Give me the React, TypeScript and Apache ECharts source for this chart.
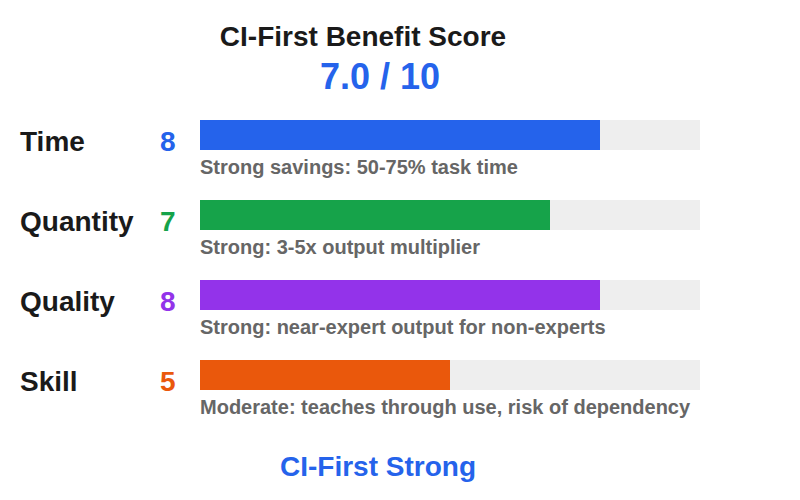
import React, { useEffect, useRef } from "react";
import * as echarts from "echarts";

const categories = ["Time", "Quantity", "Quality", "Skill"];
const scores = [8, 7, 8, 5];
const colors = ["#2563eb", "#16a34a", "#9333ea", "#ea580c"];
const notes = [
  "Strong savings: 50-75% task time",
  "Strong: 3-5x output multiplier",
  "Strong: near-expert output for non-experts",
  "Moderate: teaches through use, risk of dependency",
];
const titleText = "CI-First Benefit Score";
const verdictText = "CI-First Strong";
const maxScore = 10;

const FONT = '"Liberation Sans", Arial, Helvetica, sans-serif';

export default function App() {
  const ref = useRef<HTMLDivElement>(null);
  useEffect(() => {
    if (!ref.current) return;
    const chart = echarts.init(ref.current, undefined, { renderer: "svg" });
    const avg = scores.reduce((a, b) => a + b, 0) / scores.length;
    const rich: any = {
      name: { fontSize: 28, fontWeight: "bold", color: "#1a1a1a", width: 140, fontFamily: FONT },
    };
    colors.forEach((c, i) => {
      rich["s" + i] = { fontSize: 28, fontWeight: "bold", color: c, fontFamily: FONT };
    });
    chart.setOption({
      animation: false,
      backgroundColor: "#ffffff",
      textStyle: { fontFamily: FONT },
      grid: { left: 200, width: 500, top: 95, height: 320, containLabel: false },
      xAxis: { type: "value", min: 0, max: maxScore, show: false },
      yAxis: {
        type: "category",
        inverse: true,
        data: categories,
        axisLine: { show: false },
        axisTick: { show: false },
        splitLine: { show: false },
        axisLabel: {
          align: "left",
          margin: 180,
          padding: [12, 0, 0, 0],
          formatter: (v: string, i: number) => `{name|${v}}{s${i}|${scores[i]}}`,
          rich,
        },
      },
      series: [
        {
          type: "bar",
          barWidth: 30,
          showBackground: true,
          backgroundStyle: { color: "#eeeeee" },
          data: scores.map((s, i) => ({ value: s, itemStyle: { color: colors[i] } })),
          label: {
            show: true,
            position: [0, 47],
            align: "left",
            verticalAlign: "middle",
            fontSize: 20,
            fontWeight: "bold",
            color: "#666666",
            fontFamily: FONT,
            formatter: (p: any) => notes[p.dataIndex],
          },
        },
      ],
      graphic: [
        {
          type: "text",
          x: 363,
          y: 36,
          style: {
            text: titleText,
            fontSize: 28,
            fontWeight: "bold",
            fill: "#1a1a1a",
            fontFamily: FONT,
            textAlign: "center",
            textVerticalAlign: "middle",
          },
        },
        {
          type: "text",
          x: 380,
          y: 76,
          style: {
            text: `${avg.toFixed(1)} / ${maxScore}`,
            fontSize: 36,
            fontWeight: "bold",
            fill: "#2563eb",
            fontFamily: FONT,
            textAlign: "center",
            textVerticalAlign: "middle",
          },
        },
        {
          type: "text",
          x: 378,
          y: 466,
          style: {
            text: verdictText,
            fontSize: 28,
            fontWeight: "bold",
            fill: "#2563eb",
            fontFamily: FONT,
            textAlign: "center",
            textVerticalAlign: "middle",
          },
        },
      ],
    });
    return () => chart.dispose();
  }, []);
  return <div ref={ref} style={{ width: 800, height: 500, position: "absolute", left: 0, top: 0 }} />;
}
